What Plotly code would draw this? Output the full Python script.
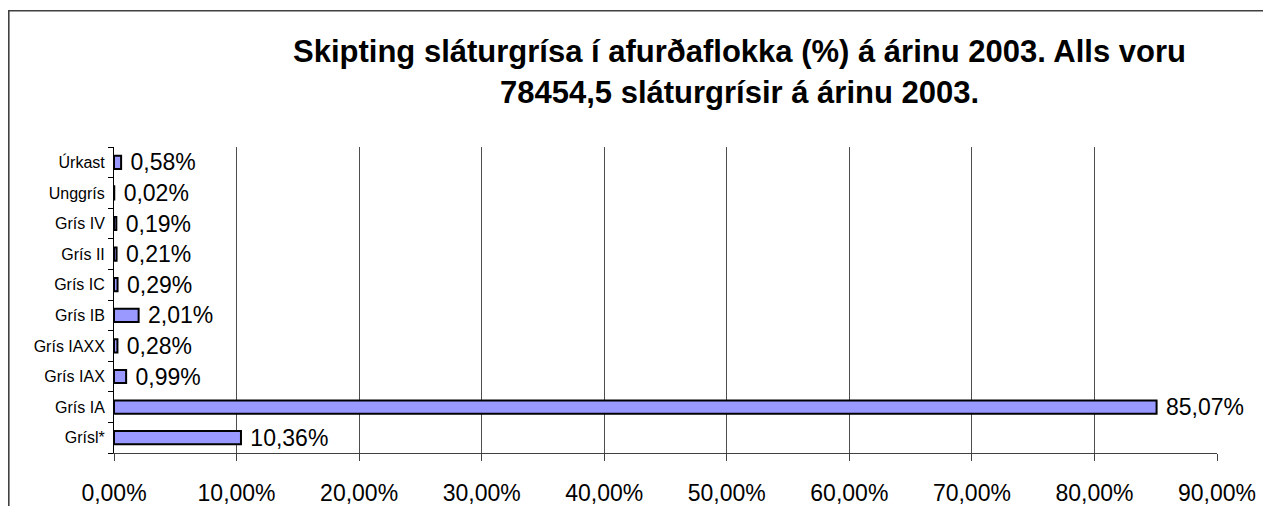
import plotly.graph_objects as go

categories = ["Grísl*", "Grís IA", "Grís IAX", "Grís IAXX", "Grís IB",
              "Grís IC", "Grís II", "Grís IV", "Unggrís", "Úrkast"]
values = [10.36, 85.07, 0.99, 0.28, 2.01, 0.29, 0.21, 0.19, 0.02, 0.58]
tick_vals = [0, 10, 20, 30, 40, 50, 60, 70, 80, 90]
tick_text = [f"{v:.2f}".replace(".", ",") + "%" for v in tick_vals]
labels = [" " + f"{v:.2f}".replace(".", ",") + "%" for v in values]
title_lines = ["Skipting sláturgrísa í afurðaflokka (%) á árinu 2003. Alls voru",
               "78454,5 sláturgrísir á árinu 2003."]

W, H = 1271, 506
L, R, T, B = 106, 62, 139, 61
pw, ph = W - L - R, H - T - B


def px_to_paper_x(px):
    return (px - L) / pw


def px_to_paper_y(py):
    return 1 - (py - T) / ph


fig = go.Figure(go.Bar(
    y=categories, x=values, orientation="h",
    marker=dict(color="#9999FF", line=dict(color="black", width=2)),
    text=labels, textposition="outside", cliponaxis=False,
    constraintext="none",
    textfont=dict(family="Arial", size=23, color="black"),
    width=0.43,
))

annotations = []
for line, cy in zip(title_lines, [43, 84.5]):
    annotations.append(dict(
        text="<b>" + line + "</b>", showarrow=False,
        xref="paper", yref="paper",
        x=px_to_paper_x(731), y=px_to_paper_y(cy),
        xanchor="center", yanchor="middle",
        font=dict(family="Arial", size=31, color="black"),
    ))

fig.update_layout(
    width=W, height=H,
    margin=dict(l=L, r=R, t=T, b=B, autoexpand=False),
    paper_bgcolor="white", plot_bgcolor="white",
    font=dict(family="Arial", color="black"),
    showlegend=False,
    annotations=annotations,
    xaxis=dict(
        range=[0, 90], tickvals=tick_vals, ticktext=tick_text,
        showgrid=True, gridcolor="#4d4d4d", gridwidth=1,
        showline=True, linecolor="#404040", linewidth=1,
        ticks="outside", ticklen=7, tickcolor="#404040",
        ticklabelstandoff=12,
        tickfont=dict(family="Arial", size=23, color="black"),
        zeroline=False, fixedrange=True,
    ),
    yaxis=dict(
        categoryorder="array", categoryarray=categories,
        showline=True, linecolor="black", linewidth=1,
        ticks="outside", ticklen=5, tickcolor="black", tickson="boundaries",
        ticklabelstandoff=5,
        tickfont=dict(family="Arial", size=16, color="black"),
        showgrid=False, fixedrange=True,
    ),
    shapes=[dict(
        type="rect", xref="paper", yref="paper",
        x0=px_to_paper_x(0.8), x1=px_to_paper_x(W + 10),
        y0=px_to_paper_y(H + 10), y1=px_to_paper_y(2.7),
        line=dict(color="#404040", width=1.6), fillcolor="rgba(0,0,0,0)",
        layer="below",
    )],
)

fig.write_html("out.html")
